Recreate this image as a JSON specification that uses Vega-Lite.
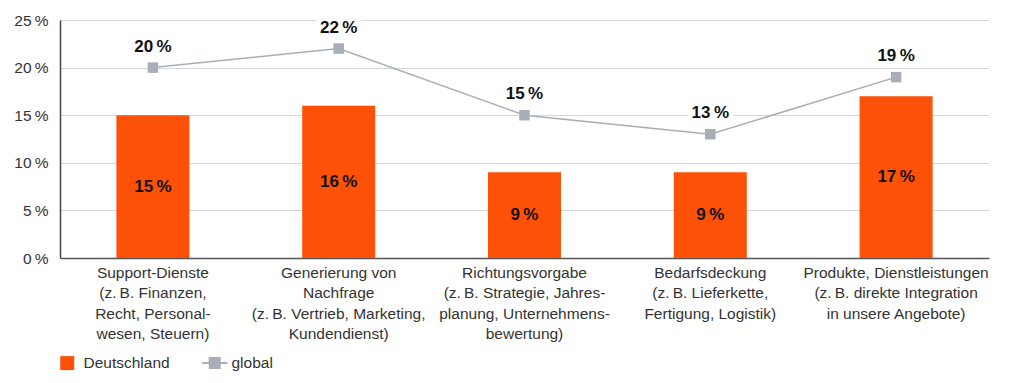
{
  "$schema": "https://vega.github.io/schema/vega-lite/v6.json",
  "width": 929,
  "height": 238,
  "autosize": {"type": "none"},
  "padding": {"left": 60, "top": 20, "right": 35, "bottom": 125},
  "background": "#ffffff",
  "config": {
    "font": "Liberation Sans",
    "view": {"stroke": null}
  },
  "data": {
    "values": [
      {"cat": "Support-Dienste|(z.\u2009B. Finanzen,|Recht, Personal-|wesen, Steuern)", "de": 15, "global": 20},
      {"cat": "Generierung von|Nachfrage|(z.\u2009B. Vertrieb, Marketing,|Kundendienst)", "de": 16, "global": 22},
      {"cat": "Richtungsvorgabe|(z.\u2009B. Strategie, Jahres-|planung, Unternehmens-|bewertung)", "de": 9, "global": 15},
      {"cat": "Bedarfsdeckung|(z.\u2009B. Lieferkette,|Fertigung, Logistik)", "de": 9, "global": 13},
      {"cat": "Produkte, Dienstleistungen|(z.\u2009B. direkte Integration|in unsere Angebote)", "de": 17, "global": 19}
    ]
  },
  "transform": [
    {"calculate": "datum.de / 2", "as": "de_mid"},
    {"calculate": "datum.de + '\u2009%'", "as": "de_label"},
    {"calculate": "datum.global + '\u2009%'", "as": "global_label"}
  ],
  "encoding": {
    "x": {
      "field": "cat",
      "type": "nominal",
      "sort": null,
      "scale": {"paddingInner": 0, "paddingOuter": 0},
      "axis": {
        "title": null,
        "labelAngle": 0,
        "labelExpr": "split(datum.label, '|')",
        "labelFont": "Liberation Sans",
        "labelFontSize": 15.5,
        "labelColor": "#333333",
        "labelLineHeight": 20.5,
        "labelPadding": 7,
        "labelBaseline": "top",
        "ticks": false,
        "domainColor": "#555555",
        "domainWidth": 1.5,
        "grid": false,
        "labelLimit": 0
      }
    }
  },
  "layer": [
    {
      "mark": {"type": "bar", "width": 73},
      "encoding": {
        "y": {
          "field": "de",
          "type": "quantitative",
          "scale": {"domain": [0, 25], "nice": false},
          "axis": {
            "title": null,
            "values": [0, 5, 10, 15, 20, 25],
            "labelExpr": "datum.value + '\u2009%'",
            "labelFont": "Liberation Sans",
            "labelFontSize": 15.5,
            "labelColor": "#333333",
            "labelPadding": 12,
            "ticks": false,
            "grid": true,
            "gridColor": "#d3d6db",
            "gridWidth": 1,
            "domainColor": "#444444",
            "domainWidth": 1.5
          }
        },
        "color": {
          "datum": "Deutschland",
          "type": "nominal",
          "scale": {"domain": ["Deutschland", "global"], "range": ["#fd5108", "#a9adb8"]},
          "legend": {
            "title": null,
            "orient": "none",
            "direction": "horizontal",
            "legendX": -1,
            "legendY": 335,
            "labelFont": "Liberation Sans",
            "labelFontSize": 15.5,
            "labelColor": "#333333",
            "symbolSize": 625,
            "columnPadding": 28,
            "labelOffset": 9,
            "encode": {
              "symbols": {
                "update": {
                  "shape": {"signal": "datum.value === 'global' ? 'M-1,0L-0.4,0M0.4,0L1,0M-0.4,-0.4L0.4,-0.4L0.4,0.4L-0.4,0.4Z' : 'M-0.52,-0.56L0.6,-0.56L0.6,0.56L-0.52,0.56Z'"},
                  "size": {"value": 625},
                  "strokeWidth": {"signal": "datum.value === 'global' ? 2 : 0"},
                  "stroke": {"signal": "datum.value === 'global' ? '#a9adb8' : '#fd5108'"},
                  "fill": {"signal": "datum.value === 'global' ? '#a9adb8' : '#fd5108'"}
                }
              }
            }
          }
        }
      }
    },
    {
      "mark": {"type": "text", "font": "Liberation Sans", "fontSize": 17, "fontWeight": "bold", "color": "#111111", "baseline": "middle"},
      "encoding": {
        "y": {"field": "de_mid", "type": "quantitative"},
        "text": {"field": "de_label", "type": "nominal"}
      }
    },
    {
      "mark": {"type": "line", "color": "#a9adb8", "strokeWidth": 1.5},
      "encoding": {
        "y": {"field": "global", "type": "quantitative"}
      }
    },
    {
      "mark": {"type": "point", "shape": "square", "size": 110, "filled": true, "color": "#a9adb8", "opacity": 1},
      "encoding": {
        "y": {"field": "global", "type": "quantitative"}
      }
    },
    {
      "mark": {"type": "text", "font": "Liberation Sans", "fontSize": 17, "fontWeight": "bold", "dy": -21, "stroke": "#ffffff", "strokeWidth": 10, "color": "#ffffff"},
      "encoding": {
        "y": {"field": "global", "type": "quantitative"},
        "text": {"field": "global_label", "type": "nominal"}
      }
    },
    {
      "mark": {"type": "text", "font": "Liberation Sans", "fontSize": 17, "fontWeight": "bold", "dy": -21, "color": "#111111"},
      "encoding": {
        "y": {"field": "global", "type": "quantitative"},
        "text": {"field": "global_label", "type": "nominal"}
      }
    }
  ]
}
